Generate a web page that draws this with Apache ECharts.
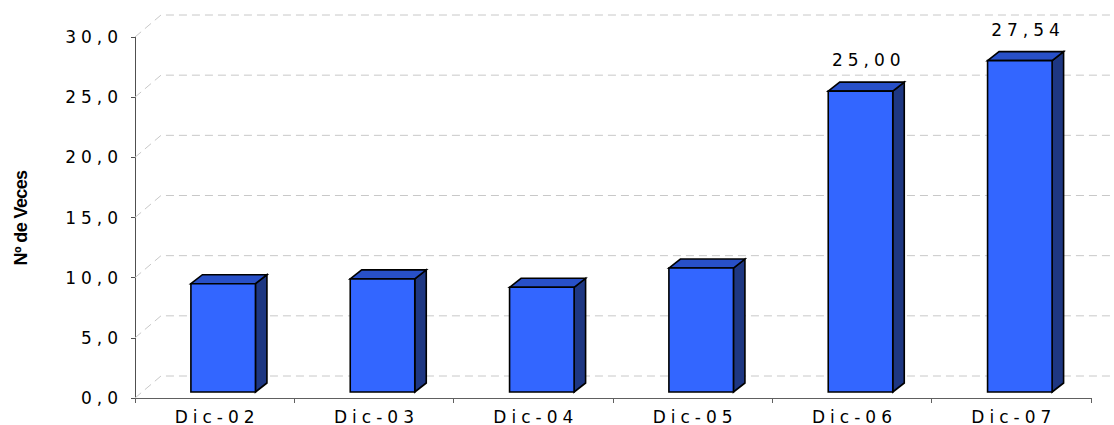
<!DOCTYPE html>
<html>
<head>
<meta charset="utf-8">
<script src="https://cdn.jsdelivr.net/npm/echarts@6/dist/echarts.min.js"></script>
<style>
html,body{margin:0;padding:0;background:#fff;}
#chart{width:1114px;height:425px;}
#chart svg text{letter-spacing:5px;}
#chart svg text[style*="bold"]{letter-spacing:-0.6px;}
</style>
</head>
<body>
<div id="chart"></div>
<script>
var categories = ['Dic-02', 'Dic-03', 'Dic-04', 'Dic-05', 'Dic-06', 'Dic-07'];
var values = [9.0, 9.4, 8.7, 10.3, 25.00, 27.54];
var showLabel = [false, false, false, false, true, true];
var yTicks = [0, 5, 10, 15, 20, 25, 30];
var yTitle = 'Nº de Veces';

var WALL_DX = 26, WALL_DY = 22;      // depth of back wall
var BAR_RISE = 6, BAR_SHIFT = 8.5;   // bar front face position inside floor
var BAR_DX = 11.5, BAR_DY = 9;       // bar depth
var LABEL_FONT = '17px "DejaVu Sans"';

var chart = echarts.init(document.getElementById('chart'), null, {renderer: 'svg'});

function fmt(v) { return v.toFixed(2).replace('.', ','); }

function renderWall(params, api) {
  var t = api.value(1);
  var p = api.coord([0, t]);
  var cs = params.coordSys;
  var x0 = cs.x, y = p[1];
  return {
    type: 'polyline',
    shape: {points: [[x0, y], [x0 + WALL_DX, y - WALL_DY], [cs.x + cs.width + WALL_DX + 10, y - WALL_DY]]},
    style: {stroke: '#c8c8c8', lineWidth: 1, lineDash: [8, 5], fill: null},
    silent: true
  };
}

function renderBar(params, api) {
  var idx = api.value(0), v = api.value(1);
  var top = api.coord([idx, v]);
  var base = api.coord([idx, 0]);
  var bw = api.size([1, 0])[0];
  var w = bw * 0.405;
  var cx = top[0] + BAR_SHIFT;
  var x0 = cx - w / 2, x1 = cx + w / 2;
  var yt = top[1] - BAR_RISE, yb = base[1] - BAR_RISE;
  var border = {stroke: '#000', lineWidth: 1.6, lineJoin: 'miter'};
  var children = [
    {type: 'polygon', shape: {points: [[x1, yt], [x1 + BAR_DX, yt - BAR_DY], [x1 + BAR_DX, yb - BAR_DY], [x1, yb]]},
     style: Object.assign({fill: '#1e3782'}, border)},
    {type: 'polygon', shape: {points: [[x0, yt], [x0 + BAR_DX, yt - BAR_DY], [x1 + BAR_DX, yt - BAR_DY], [x1, yt]]},
     style: Object.assign({fill: '#2850c8'}, border)},
    {type: 'rect', shape: {x: x0, y: yt, width: w, height: yb - yt},
     style: Object.assign({fill: '#3366ff'}, border)}
  ];
  if (showLabel[idx]) {
    children.push({
      type: 'text',
      style: {text: fmt(v), x: cx + BAR_DX / 2 + 2.5, y: yt - 31, align: 'center', verticalAlign: 'middle',
              font: LABEL_FONT, fill: '#000'}
    });
  }
  return {type: 'group', children: children};
}

chart.setOption({
  animation: false,
  backgroundColor: '#fff',
  grid: {left: 135, right: 23, top: 37, bottom: 27, containLabel: false},
  xAxis: {
    type: 'category',
    data: categories,
    boundaryGap: true,
    axisLine: {show: true, lineStyle: {color: '#606060', width: 1}},
    axisTick: {show: true, length: 5, alignWithLabel: false, lineStyle: {color: '#606060'}},
    axisLabel: {color: '#000', fontFamily: 'DejaVu Sans', fontSize: 17, margin: 10, padding: [0, 0, 0, 5]},
    splitLine: {show: false}
  },
  yAxis: {
    type: 'value',
    min: 0, max: 30, interval: 5,
    axisLine: {show: true, lineStyle: {color: '#505050', width: 1}},
    axisTick: {show: true, length: 4, lineStyle: {color: '#505050'}},
    axisLabel: {color: '#000', fontFamily: 'DejaVu Sans', fontSize: 17, margin: 12,
                formatter: function (v) { return v.toFixed(1).replace('.', ','); }},
    splitLine: {show: false}
  },
  graphic: [{
    type: 'text',
    x: 21, y: 218,
    rotation: Math.PI / 2,
    style: {text: yTitle, font: 'bold 18px "Liberation Sans"', fill: '#000', align: 'center', verticalAlign: 'middle'}
  }],
  series: [
    {
      type: 'custom',
      z: 1,
      silent: true,
      renderItem: renderWall,
      data: yTicks.map(function (t) { return [0, t]; }),
      encode: {x: 0, y: 1}
    },
    {
      type: 'custom',
      z: 5,
      renderItem: renderBar,
      data: values.map(function (v, i) { return [i, v]; }),
      encode: {x: 0, y: 1}
    }
  ]
});
</script>
</body>
</html>
